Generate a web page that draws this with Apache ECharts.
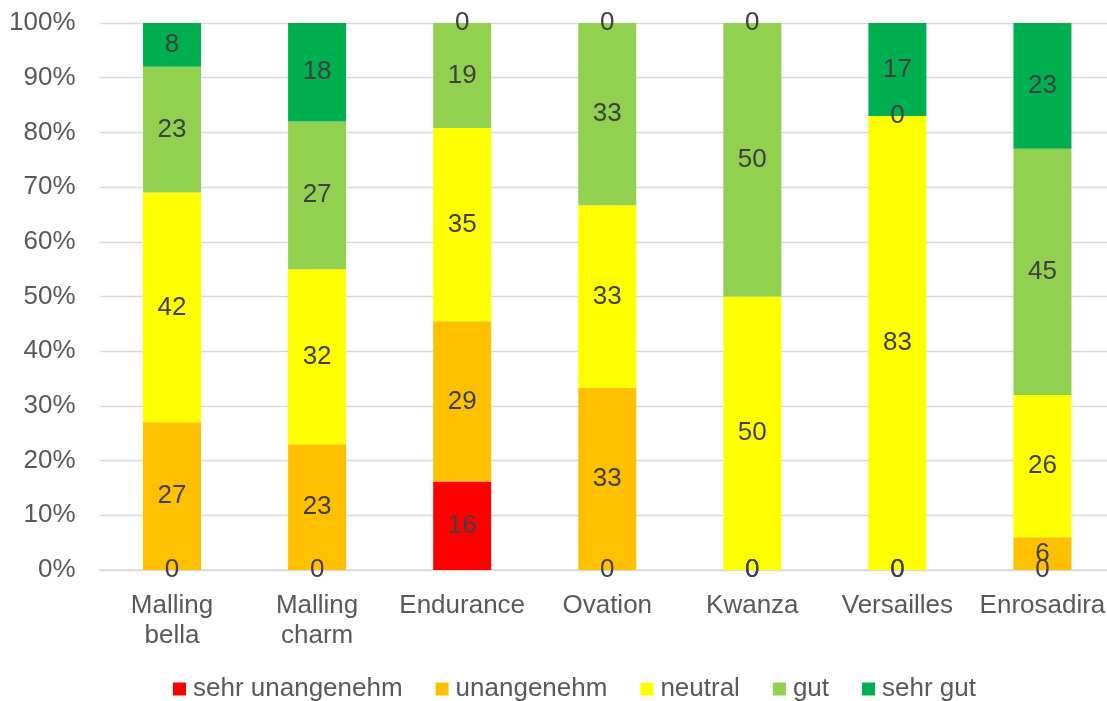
<!DOCTYPE html>
<html>
<head>
<meta charset="utf-8">
<script src="https://cdn.jsdelivr.net/npm/echarts@6/dist/echarts.min.js"></script>
<style>
  html, body { margin: 0; padding: 0; background: #ffffff; }
  #chart { width: 1107px; height: 701px; }
</style>
</head>
<body>
<div id="chart"></div>
<script>
// Rating shares per variety (percent, as labelled)
const categories = ['Malling\nbella', 'Malling\ncharm', 'Endurance', 'Ovation', 'Kwanza', 'Versailles', 'Enrosadira'];
const seriesNames = ['sehr unangenehm', 'unangenehm', 'neutral', 'gut', 'sehr gut'];
const sehrUnangenehm = [0, 0, 16, 0, 0, 0, 0];
const unangenehm     = [27, 23, 29, 33, 0, 0, 6];
const neutral        = [42, 32, 35, 33, 50, 83, 26];
const gut            = [23, 27, 19, 33, 50, 0, 45];
const sehrGut        = [8, 18, 0, 0, 0, 17, 23];
const yTickLabels    = ['0%', '10%', '20%', '30%', '40%', '50%', '60%', '70%', '80%', '90%', '100%'];

const colors = ['#FF0000', '#FFC000', '#FFFF00', '#92D050', '#00B050'];
const allSeries = [sehrUnangenehm, unangenehm, neutral, gut, sehrGut];

// 100% stacking: each column is scaled to its own total
const totals = categories.map((_, i) => allSeries.reduce((s, arr) => s + arr[i], 0));

const FONT = '"Liberation Sans", Arial, sans-serif';

const chart = echarts.init(document.getElementById('chart'), null, { renderer: 'canvas' });

chart.setOption({
  animation: false,
  backgroundColor: '#ffffff',
  color: colors,
  grid: {
    left: 99.5, top: 23, width: 1015.5, bottom: 131,
    containLabel: false,
    outerBoundsMode: 'none'
  },
  legend: {
    left: 168,
    bottom: -6,
    icon: 'rect',
    itemWidth: 13,
    itemHeight: 13,
    itemGap: 33,
    textStyle: { fontFamily: FONT, fontSize: 26, color: '#595959', padding: [0, 0, 0, 2] },
    data: seriesNames
  },
  xAxis: {
    type: 'category',
    data: categories,
    axisLine: { show: true, lineStyle: { color: '#d9d9d9', width: 1.5 } },
    axisTick: { show: false },
    axisLabel: {
      interval: 0,
      margin: 21,
      fontFamily: FONT,
      fontSize: 26,
      lineHeight: 30,
      color: '#595959'
    }
  },
  yAxis: {
    type: 'value',
    min: 0,
    max: 100,
    interval: 10,
    axisLine: { show: false },
    axisTick: { show: false },
    splitLine: { show: true, lineStyle: { color: '#d9d9d9', width: 1.3 } },
    axisLabel: {
      margin: 24,
      fontFamily: FONT,
      fontSize: 26,
      color: '#595959',
      formatter: (v) => yTickLabels[Math.round(v / 10)]
    }
  },
  series: allSeries.map((arr, k) => ({
    name: seriesNames[k],
    type: 'bar',
    stack: 'total',
    barWidth: 58,
    data: arr.map((v, i) => (v / totals[i]) * 100),
    label: {
      show: true,
      position: 'inside',
      fontFamily: FONT,
      fontSize: 26,
      color: '#404040',
      formatter: (p) => String(arr[p.dataIndex])
    },
    itemStyle: { color: colors[k] }
  }))
});
</script>
</body>
</html>
